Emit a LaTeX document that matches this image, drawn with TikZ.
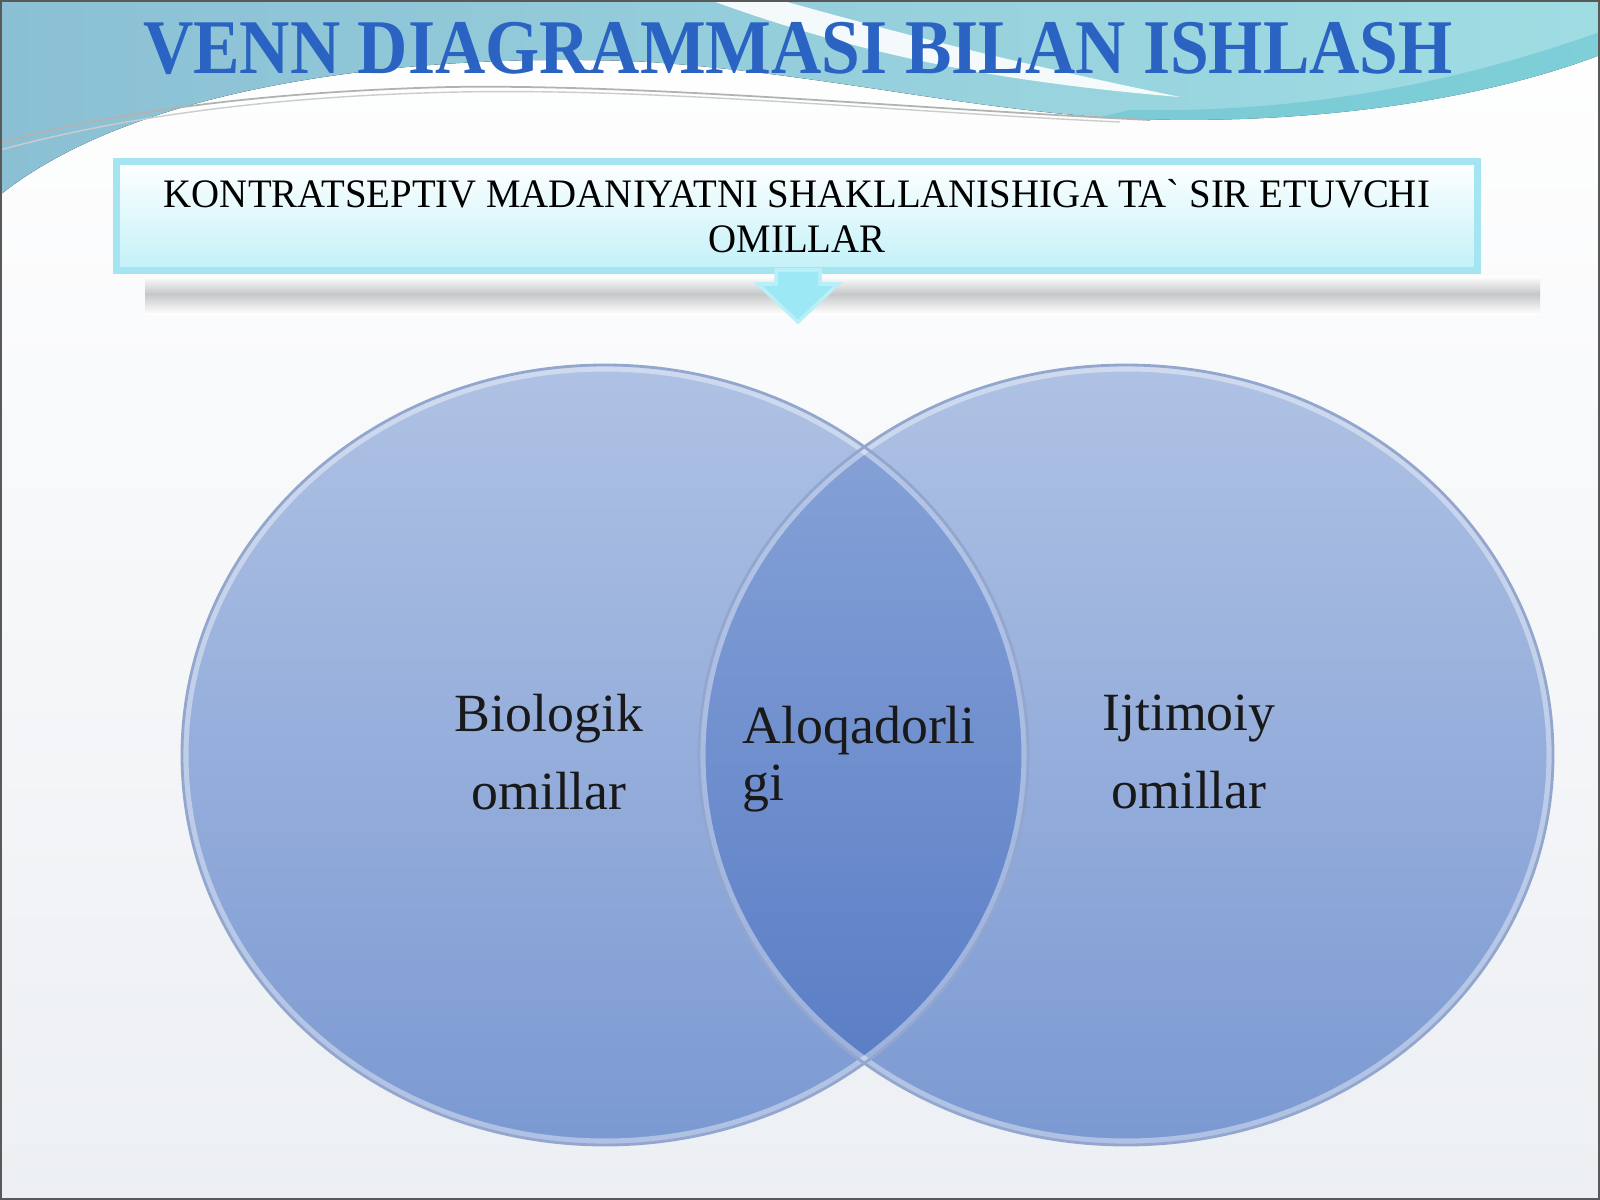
\documentclass[tikz,border=0pt]{standalone}
\usepackage{fontspec}
\setmainfont{Liberation Serif}
\newfontfamily\titlefont{Liberation Serif}[FakeStretch=0.9]
\newfontfamily\headfont{Liberation Serif}[FakeStretch=0.96]
\usepackage{tikz}
\usetikzlibrary{calc}
\definecolor{bgbot}{HTML}{ECEFF3}
\definecolor{tealleft}{HTML}{8BC0D4}
\definecolor{tealright}{HTML}{9FDDE3}
\definecolor{tealdark}{HTML}{5EC2CE}
\definecolor{titleblue}{HTML}{2A63C2}
\definecolor{boxline}{HTML}{A4E5F1}
\definecolor{boxbot}{HTML}{C2F1F8}
\definecolor{arrowcyan}{HTML}{9CE8F4}
\definecolor{shadowgray}{HTML}{C6C7C9}
\definecolor{settop}{HTML}{AFC2E4}
\definecolor{setbot}{HTML}{7B99D2}
\definecolor{lenstop}{HTML}{8AA5D9}
\definecolor{lensbot}{HTML}{5579C3}
\definecolor{setrim}{HTML}{93A7CE}

\begin{document}
\begin{tikzpicture}[x=0.01cm,y=-0.01cm,
  every node/.style={inner sep=0pt},
  headbox/.style={draw=boxline, line width=2pt, top color=white, bottom color=boxbot,
    minimum width=13.61cm, minimum height=1.09cm, align=center,
    font=\headfont\fontsize{11.5}{12.8}\selectfont},
  setfill/.style={top color=settop, bottom color=setbot},
  lensfill/.style={top color=lenstop, bottom color=lensbot},
  setrim/.style={draw=setrim, line width=.8pt},
  sethi/.style={draw=white, opacity=.4, line width=2pt},
  lbl/.style={align=center, text=black!90, font=\fontsize{15.3}{22.2}\selectfont}]
\useasboundingbox (0,0) rectangle (1600,1200);
% background and top wave
\fill[top color=white, bottom color=bgbot] (0,0) rectangle (1600,1200);
\fill[left color=tealleft, right color=tealright] (0,0) -- (1600,0) -- (1600,55)
  .. controls (1450,112) and (1250,127) .. (1100,117)
  .. controls (950,106) and (820,74) .. (650,62)
  .. controls (450,52) and (150,75) .. (0,195) -- cycle;
\fill[tealdark, opacity=.5] (1130,110) .. controls (1300,113) and (1450,85) .. (1600,32)
  -- (1600,55) .. controls (1450,112) and (1250,127) .. (1100,117) -- cycle;
\fill[white, opacity=.9] (710,0) -- (780,0) .. controls (880,28) and (1000,60) .. (1180,97)
  .. controls (1000,82) and (860,55) .. (710,0) -- cycle;
\draw[gray!60, line width=.5pt] (0,143) .. controls (100,115) and (250,92) .. (450,87)
  .. controls (650,84) and (900,108) .. (1150,120);
\draw[gray!40, line width=.4pt] (0,150) .. controls (110,120) and (260,96) .. (460,92)
  .. controls (660,88) and (900,112) .. (1120,122);
% title
\node[anchor=base, text=titleblue, font=\titlefont\bfseries\fontsize{22}{22}\selectfont]
  (title) at (798,73) {VENN DIAGRAMMASI BILAN ISHLASH};
% box, shadow and arrow
\shade[top color=white, bottom color=shadowgray] (145,276) rectangle (1540,294);
\shade[top color=shadowgray, bottom color=white] (145,294) rectangle (1540,314);
\node[headbox] (header) at (797,216)
  {KONTRATSEPTIV MADANIYATNI SHAKLLANISHIGA TA` SIR ETUVCHI\\OMILLAR};
\coordinate (tip) at (798,322);
\fill[arrowcyan, draw=arrowcyan!70!white, line width=1pt] (776,270) -- (776,284) -- (758,284)
  -- (tip) -- (838,284) -- (820,284) -- (820,270) -- cycle;
% venn sets
\fill[setfill] (605,755) ellipse [x radius=423, y radius=390];
\fill[setfill] (1126,755) ellipse [x radius=427, y radius=390];
\begin{scope}
  \clip (605,755) ellipse [x radius=423, y radius=390];
  \fill[lensfill] (1126,755) ellipse [x radius=427, y radius=390];
\end{scope}
\draw[sethi] (605,755) ellipse [x radius=420, y radius=387];
\draw[sethi] (1126,755) ellipse [x radius=424, y radius=387];
\draw[setrim] (605,755) ellipse [x radius=423, y radius=390];
\draw[setrim] (1126,755) ellipse [x radius=427, y radius=390];
% labels
\node[lbl] (bio) at (549,752) {Biologik\\omillar};
\node[lbl, align=left, anchor=west, font=\fontsize{15.3}{16.2}\selectfont] (link) at (742,759) {Aloqadorli\\gi};
\node[lbl] (soc) at (1189,752) {Ijtimoiy\\omillar};
\draw[black!65, line width=.8pt] (0.5,0.5) rectangle (1599.5,1199.5);
\end{tikzpicture}
\end{document}
